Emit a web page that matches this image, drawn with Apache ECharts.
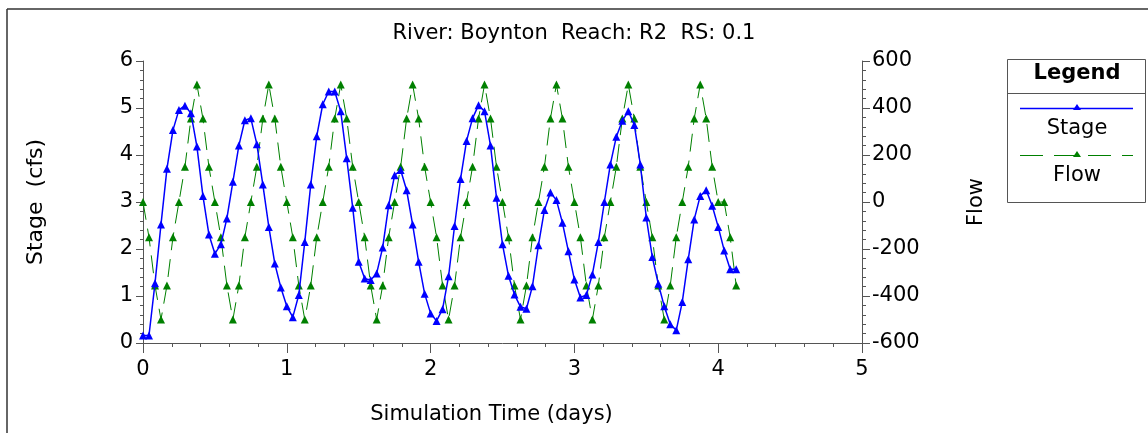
<!DOCTYPE html>
<html>
<head>
<meta charset="utf-8">
<script src="https://cdn.jsdelivr.net/npm/echarts@6/dist/echarts.min.js"></script>
<style>
html,body{margin:0;padding:0;background:#fff;}
#chart{width:1148px;height:433px;}
</style>
</head>
<body>
<div id="chart"></div>
<script>
// Simulation time in hours (hourly output), converted to days for the x axis
const hours = [0,1,2,3,4,5,6,7,8,9,10,11,12,13,14,15,16,17,18,19,20,21,22,23,24,25,26,27,28,29,30,31,32,33,34,35,36,37,38,39,40,41,42,43,44,45,46,47,48,49,50,51,52,53,54,55,56,57,58,59,60,61,62,63,64,65,66,67,68,69,70,71,72,73,74,75,76,77,78,79,80,81,82,83,84,85,86,87,88,89,90,91,92,93,94,95,96,97,98,99];
const stage = [0.16,0.16,1.27,2.52,3.71,4.53,4.96,5.05,4.89,4.18,3.13,2.31,1.90,2.10,2.65,3.43,4.20,4.74,4.78,4.23,3.37,2.47,1.69,1.18,0.78,0.55,1.02,2.15,3.37,4.40,5.08,5.35,5.35,4.93,3.93,2.88,1.73,1.37,1.34,1.48,2.03,2.93,3.57,3.68,3.25,2.52,1.73,1.05,0.63,0.47,0.72,1.42,2.49,3.49,4.30,4.78,5.06,4.93,4.20,3.09,2.10,1.43,1.03,0.77,0.73,1.21,2.08,2.83,3.20,3.04,2.56,1.95,1.35,0.97,1.02,1.46,2.15,3.00,3.80,4.39,4.73,4.93,4.64,3.80,2.67,1.83,1.26,0.78,0.40,0.27,0.87,1.78,2.63,3.13,3.25,2.92,2.47,1.97,1.57,1.57];
const flow = [0,-150,-355,-500,-355,-150,0,150,355,500,355,150,
0,-150,-355,-500,-355,-150,0,150,355,500,355,150,
0,-150,-355,-500,-355,-150,0,150,355,500,355,150,
0,-150,-355,-500,-355,-150,0,150,355,500,355,150,
0,-150,-355,-500,-355,-150,0,150,355,500,355,150,
0,-150,-355,-500,-355,-150,0,150,355,500,355,150,
0,-150,-355,-500,-355,-150,0,150,355,500,355,150,
0,-150,-355,-500,-355,-150,0,150,355,500,355,150,
0,0,-150,-355];
const titleText = 'River: Boynton  Reach: R2  RS: 0.1';
const xName = 'Simulation Time (days)';
const yLeftName = 'Stage  (cfs)';
const yRightName = 'Flow';
const legendTitle = 'Legend';
const seriesNames = ['Stage', 'Flow'];

const FONT = '"DejaVu Sans", Verdana, sans-serif';
const FS = 21;
const AX = '#555';
const stagePts = hours.map((h, i) => [h / 24, stage[i]]);
const flowPts = hours.map((h, i) => [h / 24, flow[i]]);

const chart = echarts.init(document.getElementById('chart'), null, {renderer: 'canvas'});
chart.setOption({
  animation: false,
  backgroundColor: '#fff',
  textStyle: {fontFamily: FONT},
  title: {
    text: titleText, left: 'center', top: 18,
    textStyle: {fontSize: 21, fontWeight: 'normal', color: '#000', fontFamily: FONT}
  },
  grid: {left: 143, right: 286, top: 61, bottom: 90, containLabel: false},
  xAxis: {
    type: 'value', min: 0, max: 5, interval: 1,
    name: xName, nameLocation: 'middle', nameGap: 61,
    nameTextStyle: {fontSize: FS, color: '#000', fontFamily: FONT, padding: [0, 22, 0, 0]},
    axisLine: {show: true, lineStyle: {color: AX, width: 1}},
    axisTick: {show: true, length: 10, lineStyle: {color: AX}},
    minorTick: {show: true, splitNumber: 5, length: 4, lineStyle: {color: AX}},
    splitLine: {show: false},
    axisLabel: {fontSize: FS, color: '#000', margin: 16, fontFamily: FONT}
  },
  yAxis: [{
    type: 'value', min: 0, max: 6, interval: 1, position: 'left',
    name: yLeftName, nameLocation: 'middle', nameGap: 96, nameRotate: 90,
    nameTextStyle: {fontSize: 22, color: '#000', fontFamily: FONT},
    axisLine: {show: true, lineStyle: {color: AX}},
    axisTick: {show: true, length: 7, lineStyle: {color: AX}},
    minorTick: {show: true, splitNumber: 5, length: 3, lineStyle: {color: AX}},
    splitLine: {show: false},
    axisLabel: {fontSize: FS, color: '#000', margin: 10, fontFamily: FONT}
  }, {
    type: 'value', min: -600, max: 600, interval: 200, position: 'right',
    name: yRightName, nameLocation: 'middle', nameGap: 104, nameRotate: 90,
    nameTextStyle: {fontSize: FS, color: '#000', fontFamily: FONT},
    axisLine: {show: true, lineStyle: {color: AX}},
    axisTick: {show: true, length: 8, lineStyle: {color: AX}},
    minorTick: {show: true, splitNumber: 5, length: 4, lineStyle: {color: AX}},
    splitLine: {show: false},
    axisLabel: {fontSize: FS, color: '#000', margin: 10, fontFamily: FONT}
  }],
  series: [{
    name: seriesNames[0], type: 'line', yAxisIndex: 0, data: stagePts,
    symbol: 'triangle', symbolSize: 8, showAllSymbol: true,
    itemStyle: {color: '#0000ff'},
    lineStyle: {color: '#0000ff', width: 1.5},
    z: 3
  }, {
    name: seriesNames[1], type: 'line', yAxisIndex: 1, data: flowPts,
    symbol: 'triangle', symbolSize: 8, showAllSymbol: true,
    itemStyle: {color: '#008000'},
    lineStyle: {color: '#008000', width: 1, type: [18, 9]},
    z: 2
  }],
  graphic: [
    {type: 'line', shape: {x1: 7, y1: 9, x2: 1148, y2: 9}, style: {stroke: '#333', lineWidth: 1.5}, silent: true},
    {type: 'line', shape: {x1: 7, y1: 9, x2: 7, y2: 433}, style: {stroke: '#333', lineWidth: 1.5}, silent: true},
    {type: 'rect', shape: {x: 1007.5, y: 59.5, width: 138, height: 143}, style: {fill: '#fff', stroke: '#555', lineWidth: 1}, silent: true},
    {type: 'line', shape: {x1: 1007.5, y1: 93.5, x2: 1146, y2: 93.5}, style: {stroke: '#555', lineWidth: 1}, silent: true},
    {type: 'text', x: 1077, y: 74, style: {text: legendTitle, font: 'bold 21px ' + FONT, fill: '#000', align: 'center', verticalAlign: 'middle'}, silent: true},
    {type: 'line', shape: {x1: 1020, y1: 108.5, x2: 1133, y2: 108.5}, style: {stroke: '#0000ff', lineWidth: 1.5}, silent: true},
    {type: 'polygon', shape: {points: [[1077, 104], [1073, 110], [1081, 110]]}, style: {fill: '#0000ff'}, silent: true},
    {type: 'text', x: 1077, y: 129, style: {text: seriesNames[0], font: FS + 'px ' + FONT, fill: '#000', align: 'center', verticalAlign: 'middle'}, silent: true},
    {type: 'line', shape: {x1: 1020, y1: 155.5, x2: 1133, y2: 155.5}, style: {stroke: '#008000', lineWidth: 1, lineDash: [23, 11]}, silent: true},
    {type: 'polygon', shape: {points: [[1077, 151], [1073, 157], [1081, 157]]}, style: {fill: '#008000'}, silent: true},
    {type: 'text', x: 1077, y: 176, style: {text: seriesNames[1], font: FS + 'px ' + FONT, fill: '#000', align: 'center', verticalAlign: 'middle'}, silent: true}
  ]
});
</script>
</body>
</html>
